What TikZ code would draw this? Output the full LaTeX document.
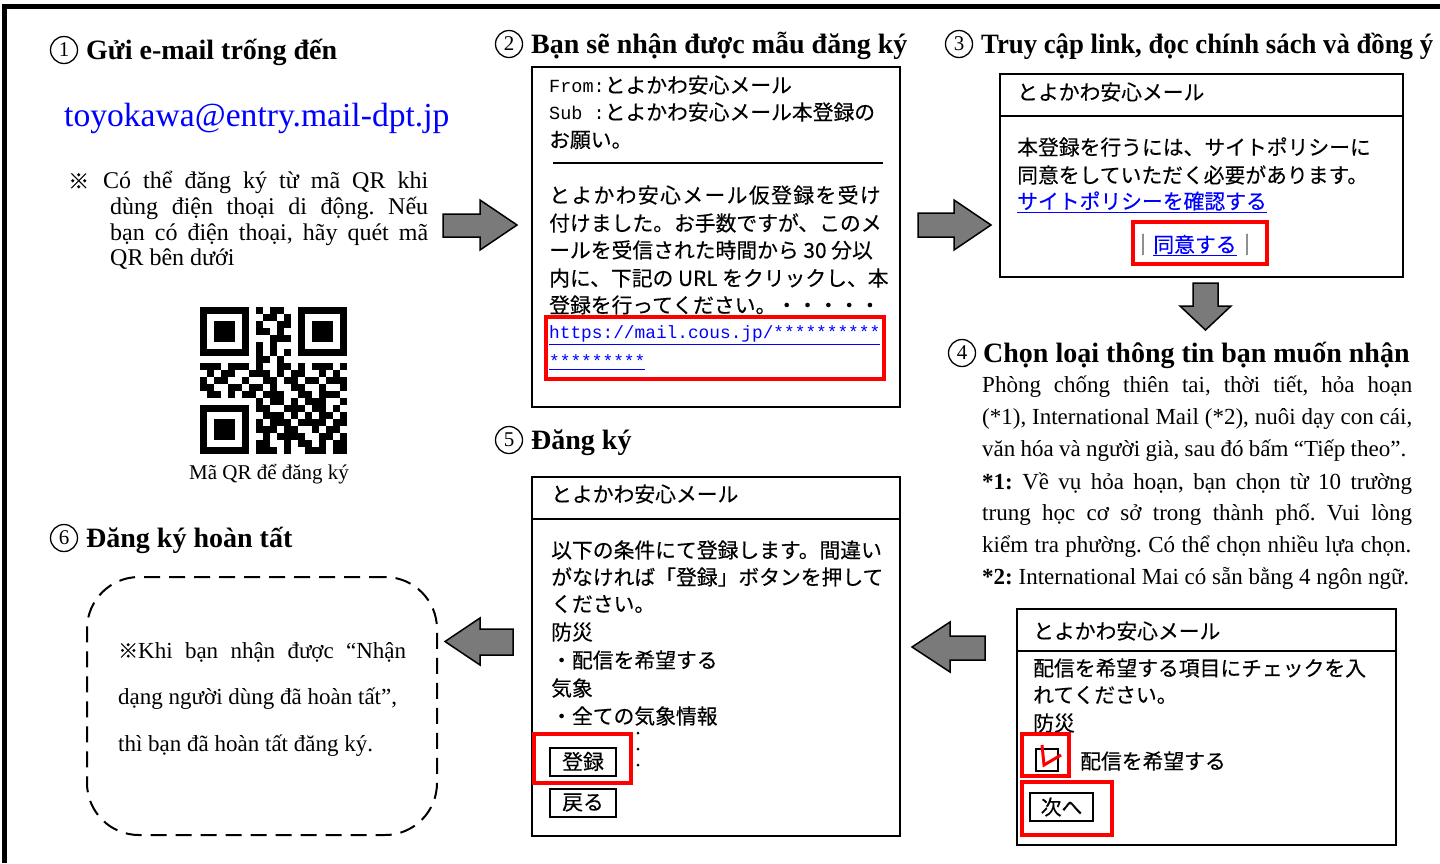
\documentclass[tikz,border=0pt]{standalone}
\usepackage{fontspec}
\setmainfont{Liberation Serif}
\newfontfamily\jpf[FakeBold=0.3]{Noto Sans CJK JP}
\newfontfamily\monof{Liberation Mono}
\usetikzlibrary{fit,calc}
\definecolor{agray}{RGB}{122,122,122}
\definecolor{lblue}{RGB}{0,0,255}
\definecolor{rred}{RGB}{255,0,0}
\frenchspacing
\begin{document}
\begin{tikzpicture}[x=1pt,y=-1pt,
  box/.style={draw, line width=2pt, inner sep=0pt},
  redbox/.style={draw=rred, line width=3.5pt, inner sep=0pt},
  jp/.style={anchor=west, inner sep=0pt, font=\jpf\fontsize{20.8}{24}\selectfont},
  btn/.style={draw, line width=2pt, minimum width=66pt, minimum height=28pt, inner sep=0pt, font=\jpf\fontsize{20.8}{24}\selectfont},
  hd/.style={anchor=base west, inner sep=0pt, font=\bfseries\fontsize{28}{32}\selectfont},
  numc/.style={circle, draw, line width=1.3pt, minimum size=27pt, inner sep=0pt, font=\fontsize{21}{21}\selectfont},
  vt/.style={anchor=base west, inner sep=0pt, font=\fontsize{23}{26}\selectfont},
  note/.style={anchor=base west, inner sep=0pt, font=\fontsize{24}{26}\selectfont},
  barrow/.style={draw, line width=1.5pt, fill=agray, line join=miter},
  url/.style={anchor=west, inner sep=0pt, text=lblue, font=\monof\fontsize{17.8}{20}\selectfont}]
\useasboundingbox (0,0) rectangle (1440,863);

% outer frame
\draw[line width=5pt] (4.2,863) -- (4.2,6.3) -- (1440,6.3);

% ---------- step 1 ----------
\node[numc] (n1) at (64,50) {1};
\node[hd] (h1) at (86,59) {Gửi e-mail trống đến};
\node[anchor=base west, inner sep=0pt, text=lblue, font=\fontsize{33.6}{36}\selectfont] (mail) at (64,126) {toyokawa@entry.mail-dpt.jp};
\node[anchor=west, inner sep=0pt, font=\jpf\fontsize{21}{24}\selectfont] (kome1) at (68,181) {※};
\node[note] (t1a) at (103,188) {\makebox[325pt][s]{Có thể đăng ký từ mã QR khi}};
\node[note] (t1b) at (110,214) {\makebox[318pt][s]{dùng điện thoại di động. Nếu}};
\node[note] (t1c) at (110,240) {\makebox[318pt][s]{bạn có điện thoại, hãy quét mã}};
\node[note] (t1d) at (110,265) {QR bên dưới};

% QR code
\coordinate (qr) at (200,307);
\foreach \r [count=\j from 0] in {
{1,1,1,1,1,1,1,0,1,0,1,1,0,0,1,1,1,1,1,1,1},
{1,0,0,0,0,0,1,0,0,1,1,0,1,0,1,0,0,0,0,0,1},
{1,0,1,1,1,0,1,0,1,0,0,1,1,0,1,0,1,1,1,0,1},
{1,0,1,1,1,0,1,0,1,1,0,1,0,0,1,0,1,1,1,0,1},
{1,0,1,1,1,0,1,0,0,0,1,1,1,0,1,0,1,1,1,0,1},
{1,0,0,0,0,0,1,0,1,0,1,0,0,0,1,0,0,0,0,0,1},
{1,1,1,1,1,1,1,0,1,0,1,0,1,0,1,1,1,1,1,1,1},
{0,0,0,0,0,0,0,0,1,1,0,1,0,0,0,0,0,0,0,0,0},
{1,1,1,0,1,1,1,0,1,0,0,1,1,0,1,0,1,1,1,0,1},
{0,1,0,1,1,0,0,1,1,1,0,1,0,1,1,0,0,1,0,1,0},
{1,0,1,1,0,0,1,0,0,1,1,0,1,1,0,1,1,0,1,1,1},
{1,1,0,0,1,1,0,1,1,0,1,0,0,1,1,0,0,1,0,0,1},
{0,1,1,0,1,0,1,1,0,1,1,1,0,0,1,1,0,1,1,1,0},
{0,0,0,0,0,0,0,0,1,0,1,1,0,1,0,1,1,1,0,0,1},
{1,1,1,1,1,1,1,0,1,1,0,0,1,1,1,0,1,1,0,1,0},
{1,0,0,0,0,0,1,0,0,1,1,1,0,1,0,1,0,1,1,0,1},
{1,0,1,1,1,0,1,0,1,0,1,1,1,0,1,1,1,1,0,1,1},
{1,0,1,1,1,0,1,0,1,1,1,0,1,1,0,0,1,0,1,1,0},
{1,0,1,1,1,0,1,0,0,1,0,1,1,1,1,0,0,1,1,0,1},
{1,0,0,0,0,0,1,0,1,1,0,0,1,0,1,1,0,1,0,1,1},
{1,1,1,1,1,1,1,0,1,1,1,0,1,0,0,1,1,1,0,1,1}}
{\foreach \b [count=\i from 0] in \r {\ifnum\b=1 \fill ($(qr)+({\i*7},{\j*7})$) rectangle ++(7.3,7.3);\fi}}
\node[anchor=base, inner sep=0pt, font=\fontsize{21}{23}\selectfont] (qrcap) at (269,479) {Mã QR để đăng ký};

% arrow 1 -> 2
\draw[barrow] (443,214) -- (480,214) -- (480,200) -- (517,225) -- (480,250) -- (480,237) -- (443,237) -- cycle;

% ---------- step 2 ----------
\node[numc] (n2) at (509,44) {2};
\node[hd] (h2) at (531,53) {Bạn sẽ nhận được mẫu đăng ký};
\node[box, fit={(532,67)(900,407)}] (b2) {};
\node[jp] (b2a) at (549,85) {{\monof\fontsize{18.5}{20}\selectfont From:}とよかわ安心メール};
\node[jp] (b2b) at (549,112) {{\monof\fontsize{18.5}{20}\selectfont Sub :}とよかわ安心メール本登録の};
\node[jp] (b2c) at (549,140) {お願い。};
\draw[line width=1.6pt] (553,163) -- (883,163);
\node[jp] (b2d) at (549,195) {\addfontfeature{LetterSpace=6.7}とよかわ安心メール仮登録を受け};
\node[jp] (b2e) at (549,223) {付けました。お手数ですが、このメ};
\node[jp] (b2f) at (549,250) {ールを受信された時間から 30 分以};
\node[jp] (b2g) at (549,278) {内に、下記の URL をクリックし、本};
\node[jp] (b2h) at (549,305) {登録を行ってください。・・・・・};
\node[url] (u1) at (549,335) {\underline{https://mail.cous.jp/**********}};
\node[url] (u2) at (549,362) {\underline{*********}};
\node[redbox, fit={(546,317)(884,379)}] (r2) {};

% arrow 2 -> 3
\draw[barrow] (918,213) -- (954,213) -- (954,200) -- (991,225) -- (954,250) -- (954,237) -- (918,237) -- cycle;

% ---------- step 3 ----------
\node[numc] (n3) at (959,44) {3};
\node[hd] (h3) at (981,53) {\scalebox{0.955}[1]{Truy cập link, đọc chính sách và đồng ý}};
\node[box, fit={(1000,74)(1403,277)}] (b3) {};
\draw[line width=2pt] (1000,116) -- (1403,116);
\node[jp] (b3a) at (1017,92) {とよかわ安心メール};
\node[jp] (b3b) at (1017,147) {本登録を行うには、サイトポリシーに};
\node[jp] (b3c) at (1017,175) {同意をしていただく必要があります。};
\node[jp, text=lblue] (b3d) at (1017,202) {\underline{サイトポリシーを確認する}};
\node[jp, anchor=center] (b3e) at (1195,245) {｜\textcolor{lblue}{\underline{同意する}}｜};
\node[redbox, fit={(1133,222)(1267,264)}] (r3) {};

% arrow 3 -> 4 (down)
\draw[barrow] (1193,283) -- (1218,283) -- (1218,306) -- (1231,306) -- (1205.5,330) -- (1180,306) -- (1193,306) -- cycle;

% ---------- step 4 ----------
\node[numc] (n4) at (962,353) {4};
\node[hd] (h4) at (983,362) {Chọn loại thông tin bạn muốn nhận};
\node[vt] (p1) at (982,392) {\makebox[430pt][s]{Phòng chống thiên tai, thời tiết, hỏa hoạn}};
\node[vt] (p2) at (982,424) {\makebox[430pt][s]{(*1), International Mail (*2), nuôi dạy con cái,}};
\node[vt] (p3) at (982,456) {\makebox[424pt][s]{văn hóa và người già, sau đó bấm “Tiếp theo”.}};
\node[vt] (p4) at (982,489) {\makebox[430pt][s]{\textbf{*1:} Về vụ hỏa hoạn, bạn chọn từ 10 trường}};
\node[vt] (p5) at (982,520) {\makebox[430pt][s]{trung học cơ sở trong thành phố. Vui lòng}};
\node[vt] (p6) at (982,552) {\makebox[429pt][s]{kiểm tra phường. Có thể chọn nhiều lựa chọn.}};
\node[vt] (p7) at (982,584) {\makebox[427pt][s]{\textbf{*2:} International Mai có sẵn bằng 4 ngôn ngữ.}};

\node[box, fit={(1017,609)(1396,845)}] (b4) {};
\draw[line width=2pt] (1017,651) -- (1396,651);
\node[jp] (b4a) at (1033,631) {とよかわ安心メール};
\node[jp] (b4b) at (1033,668) {配信を希望する項目にチェックを入};
\node[jp] (b4c) at (1033,695) {れてください。};
\node[jp] (b4d) at (1033,723) {防災};
\node[draw, line width=2pt, minimum size=22pt, inner sep=0pt, anchor=north west] (cb) at (1035,748) {};
\draw[rred, line width=3pt] (1042,745) -- (1044,765) -- (1061,755);
\node[jp] (b4e) at (1080,761) {配信を希望する};
\node[redbox, fit={(1022,734)(1069,776)}] (r4a) {};
\node[btn, minimum width=63pt] (next) at (1061.5,807) {次へ};
\node[redbox, fit={(1022,782)(1112,835)}] (r4b) {};

% arrow 4 -> 5
\draw[barrow] (985,636) -- (950,636) -- (950,622) -- (912,647) -- (950,672) -- (950,660) -- (985,660) -- cycle;

% ---------- step 5 ----------
\node[numc] (n5) at (509,440) {5};
\node[hd] (h5) at (531,449) {Đăng ký};
\node[box, fit={(532,477)(900,836)}] (b5) {};
\draw[line width=2pt] (532,519) -- (900,519);
\node[jp] (b5a) at (551,494) {とよかわ安心メール};
\node[jp] (b5b) at (551,550) {以下の条件にて登録します。間違い};
\node[jp] (b5c) at (551,577) {がなければ「登録」ボタンを押して};
\node[jp] (b5d) at (551,604) {ください。};
\node[jp] (b5e) at (551,632) {防災};
\node[jp] (b5f) at (551,660) {・配信を希望する};
\node[jp] (b5g) at (551,688) {気象};
\node[jp] (b5h) at (551,716) {・全ての気象情報};
\foreach \yy in {733,749,765} \fill (638,\yy) circle (1.5);
\node[btn] (reg) at (583,761.5) {登録};
\node[btn] (back) at (583,802.5) {戻る};
\node[redbox, fit={(534,734)(631,783)}] (r5) {};

% arrow 5 -> 6
\draw[barrow] (513,629) -- (480,629) -- (480,618) -- (445,641.5) -- (480,665) -- (480,655) -- (513,655) -- cycle;

% ---------- step 6 ----------
\node[numc] (n6) at (64,538) {6};
\node[hd] (h6) at (86,547) {Đăng ký hoàn tất};
\node[draw, line width=2pt, dash pattern=on 16pt off 9pt, rounded corners=52pt, inner sep=0pt, fit={(87,577)(437,835)}] (b6) {};
\node[vt] (s6a) at (118,658) {\makebox[288pt][s]{{\jpf\fontsize{20}{24}\selectfont ※}Khi bạn nhận được “Nhận}};
\node[vt] (s6b) at (118,704) {dạng người dùng đã hoàn tất”,};
\node[vt] (s6c) at (118,751) {thì bạn đã hoàn tất đăng ký.};
\end{tikzpicture}
\end{document}
